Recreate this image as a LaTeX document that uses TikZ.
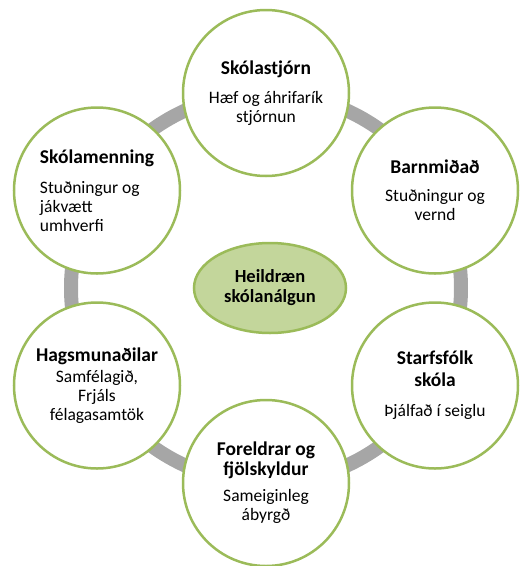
\documentclass[tikz,border=0pt]{standalone}
\usepackage{fontspec}
\setmainfont{Carlito}
\usetikzlibrary{shapes.geometric}
\definecolor{ringgray}{RGB}{166,166,166}
\definecolor{olivegreen}{RGB}{155,187,89}
\definecolor{lightolive}{RGB}{195,214,155}
\newcommand{\ttlfont}{\fontsize{19.5}{21}\selectfont\bfseries}
\begin{document}
\begin{tikzpicture}[x=1pt,y=-1pt,
  bubble/.style={circle, draw=olivegreen, line width=2.5pt, fill=white,
    minimum size=166pt, inner sep=0pt, align=center,
    font=\fontsize{17.5}{19}\selectfont},
  hub/.style={ellipse, draw=olivegreen, line width=2.5pt, fill=lightolive,
    minimum width=152pt, minimum height=90pt, inner sep=0pt, align=center,
    font=\fontsize{18.5}{20}\selectfont\bfseries},
  ringline/.style={draw=ringgray, line width=14pt}]
\useasboundingbox (0,0) rectangle (520,566);
\coordinate (rc) at (266,288);
\draw[ringline] (rc) circle[radius=195pt];
\node[bubble] (lead) at (266,93) {{\ttlfont Skólastjórn}\\[10pt]Hæf og áhrifarík\\stjórnun};
\node[bubble, align=left] (culture) at (97,190.5) {{\ttlfont Skólamenning}\\[11pt]Stuðningur og\\jákvætt\\umhverfi};
\node[bubble] (child) at (435,190.5) {{\ttlfont Barnmiðað}\\[9pt]Stuðningur og\\vernd};
\node[bubble] (staff) at (435,385.5) {{\ttlfont Starfsfólk}\\[3pt]{\ttlfont skóla}\\[11pt]Þjálfað í seiglu};
\node[bubble] (family) at (266,483) {{\ttlfont Foreldrar og}\\[1pt]{\ttlfont fjölskyldur}\\[7pt]Sameiginleg\\ábyrgð};
\node[bubble] (stake) at (97,385.5) {{\ttlfont Hagsmunaðilar}\\[2pt]Samfélagið,\\Frjáls\\félagasamtök};
\node[hub] (core) at (270,288) {Heildræn\\skólanálgun};
\end{tikzpicture}
\end{document}
